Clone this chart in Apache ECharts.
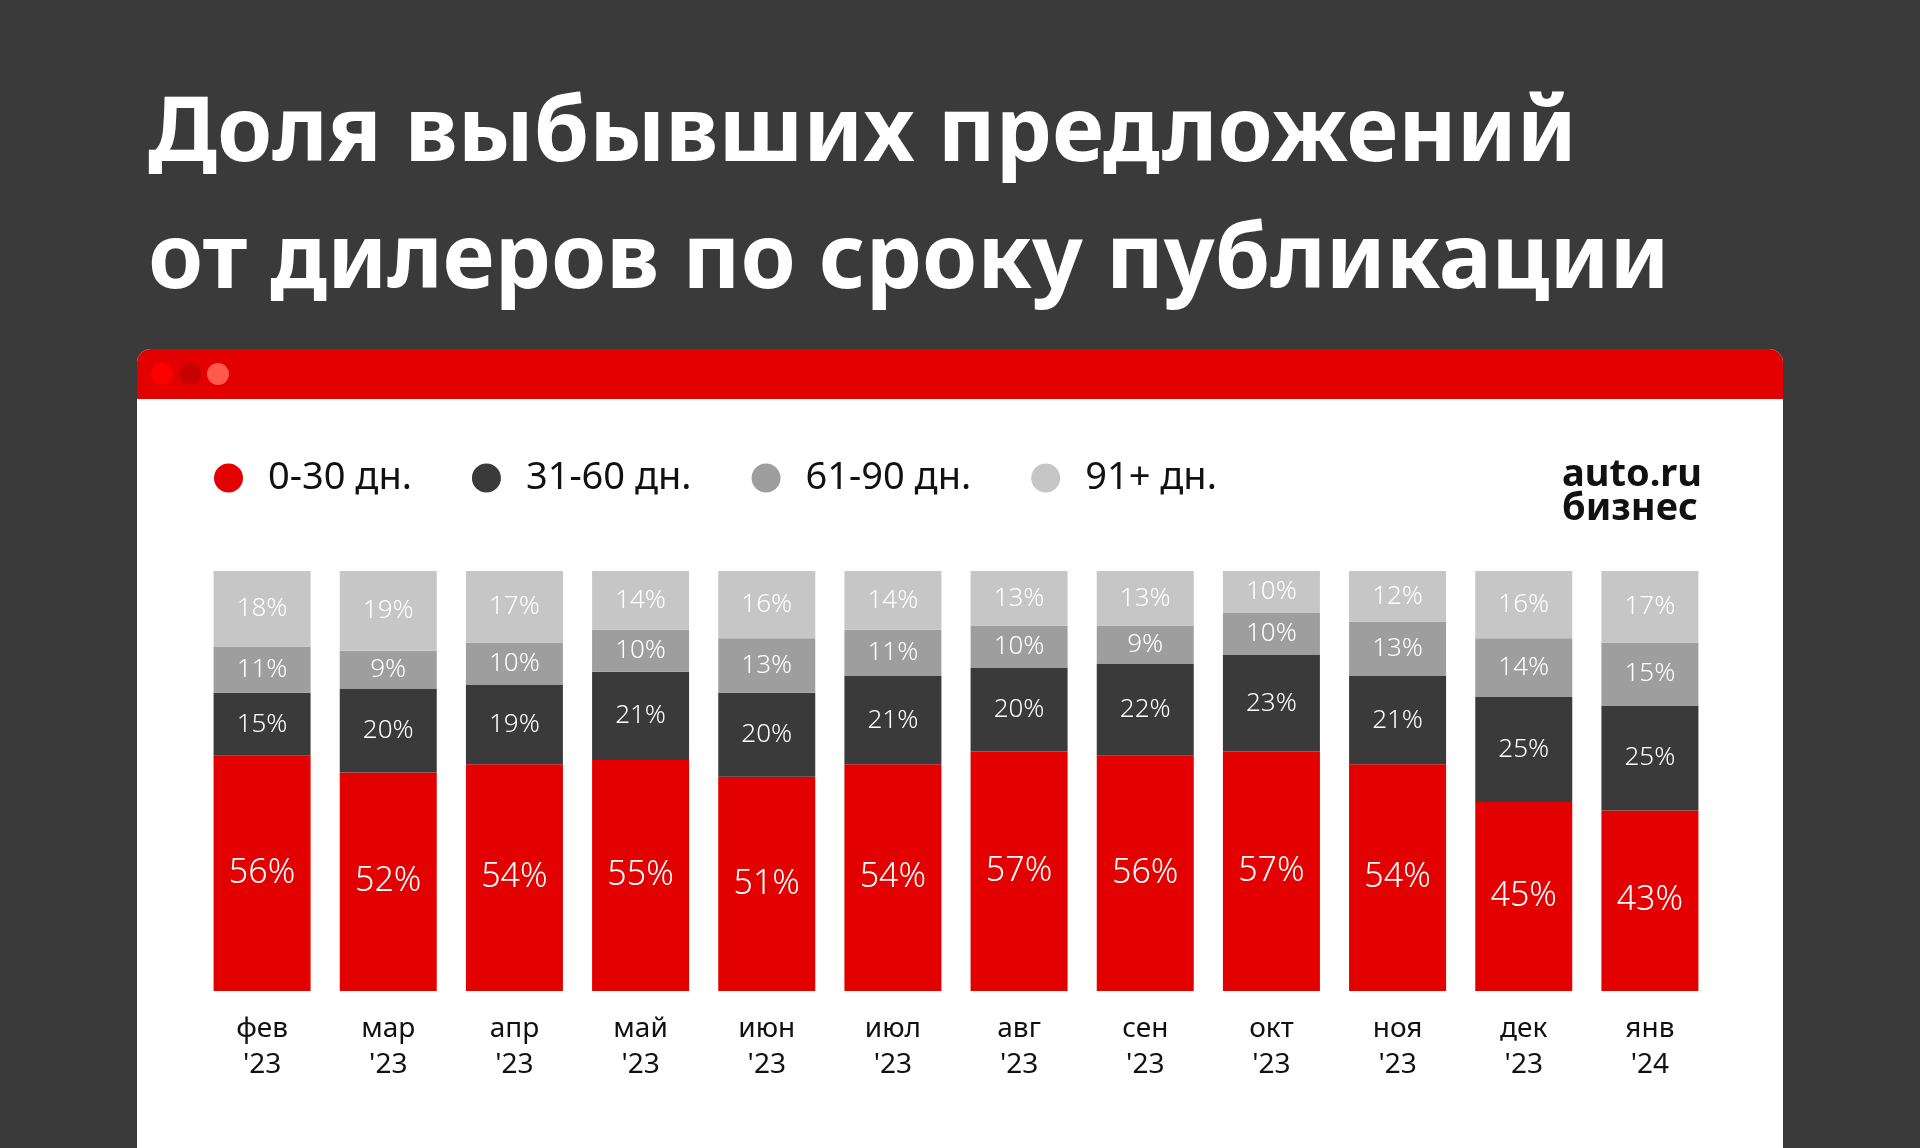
<!DOCTYPE html>
<html>
<head>
<meta charset="utf-8">
<script src="https://cdn.jsdelivr.net/npm/echarts@6/dist/echarts.min.js"></script>
<style>
  html, body { margin: 0; padding: 0; background: #3a3a3a; }
  #main { width: 1920px; height: 1148px; }
</style>
</head>
<body>
<div id="main"></div>
<script>
var months = ["фев\n'23", "мар\n'23", "апр\n'23", "май\n'23", "июн\n'23", "июл\n'23",
  "авг\n'23", "сен\n'23", "окт\n'23", "ноя\n'23", "дек\n'23", "янв\n'24"];
var seriesNames = ["0-30 дн.", "31-60 дн.", "61-90 дн.", "91+ дн."];
var days0_30 = [56, 52, 54, 55, 51, 54, 57, 56, 57, 54, 45, 43]; // 0-30
var days31_60 = [15, 20, 19, 21, 20, 21, 20, 22, 23, 21, 25, 25]; // 31-60
var days61_90 = [11, 9, 10, 10, 13, 11, 10, 9, 10, 13, 14, 15]; // 61-90
var days91 = [18, 19, 17, 14, 16, 14, 13, 13, 10, 12, 16, 17]; // 91+

var colors = ["#e30000", "#3a3a3a", "#9e9e9e", "#c6c6c6"];
var font = "Noto Sans";

var myChart = echarts.init(document.getElementById("main"));

function makeSeries(name, data, color, size) {
  return {
    name: name,
    type: "bar",
    stack: "total",
    barWidth: 97,
    data: data,
    itemStyle: { color: color },
    label: {
      show: true,
      position: "inside",
      color: "#fff",
      fontFamily: font,
      fontWeight: 300,
      fontSize: size,
      formatter: function(p) {
        return p.value + "%";
      }
    },
    emphasis: { disabled: true }
  };
}

var option = {
  backgroundColor: "#3a3a3a",
  animation: false,
  graphic: [
    {
      type: "rect",
      z: -10,
      shape: { x: 137, y: 349, width: 1646, height: 800, r: [14, 14, 0, 0] },
      style: { fill: "#ffffff" }
    },
    {
      type: "rect",
      z: -9,
      shape: { x: 137, y: 349, width: 1646, height: 50, r: [14, 14, 0, 0] },
      style: { fill: "#e30000" }
    },
    { type: "circle", z: -8, shape: { cx: 162, cy: 374, r: 11 }, style: { fill: "#ff0000" } },
    { type: "circle", z: -8, shape: { cx: 190, cy: 374, r: 11 }, style: { fill: "#c80000" } },
    { type: "circle", z: -8, shape: { cx: 218, cy: 374, r: 11 }, style: { fill: "#ff5a4c" } },
    {
      type: "text",
      left: 148,
      top: 72,
      style: {
        text: "Доля выбывших предложений\nот дилеров по сроку публикации",
        fill: "#ffffff",
        font: "bold 89px 'Noto Sans'",
        lineHeight: 127
      }
    },
    {
      type: "text",
      right: 218,
      top: 456,
      style: {
        text: "auto.ru\nбизнес",
        fill: "#111111",
        font: "bold 38px 'Noto Sans'",
        lineHeight: 34,
        align: "right"
      }
    }
  ],
  legend: {
    left: 209,
    top: 454,
    icon: "circle",
    itemWidth: 29,
    itemHeight: 29,
    itemGap: 60,
    data: seriesNames,
    selectedMode: false,
    textStyle: {
      color: "#111111",
      fontFamily: font,
      fontSize: 38,
      padding: [0, 0, 0, 20]
    }
  },
  grid: {
    left: 199,
    right: 207,
    top: 571,
    bottom: 157
  },
  xAxis: {
    type: "category",
    data: months,
    axisLine: { show: false },
    axisTick: { show: false },
    axisLabel: {
      margin: 20,
      color: "#111111",
      fontFamily: font,
      fontSize: 28,
      lineHeight: 36
    }
  },
  yAxis: {
    type: "value",
    min: 0,
    max: 100,
    show: false,
    splitLine: { show: false }
  },
  series: [
    makeSeries(seriesNames[0], days0_30, colors[0], 34),
    makeSeries(seriesNames[1], days31_60, colors[1], 26),
    makeSeries(seriesNames[2], days61_90, colors[2], 26),
    makeSeries(seriesNames[3], days91, colors[3], 26)
  ]
};
myChart.setOption(option);
</script>
</body>
</html>
